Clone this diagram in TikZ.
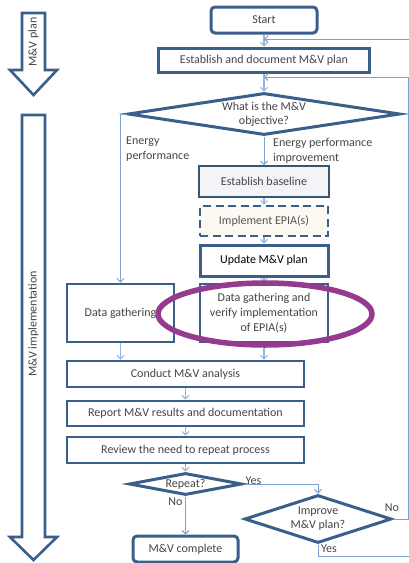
\documentclass[tikz,border=0pt]{standalone}
\usepackage{fontspec}
\setmainfont{Carlito}
\usetikzlibrary{shapes.geometric,arrows.meta,calc}

\definecolor{frame}{HTML}{3A5F8B}
\definecolor{frameB}{HTML}{395670}
\definecolor{flow}{HTML}{95B6E0}
\definecolor{thinflow}{HTML}{7AA2D3}
\definecolor{ink}{HTML}{454545}
\definecolor{softink}{HTML}{555555}
\definecolor{mark}{HTML}{953B8F}
\definecolor{paleA}{HTML}{F2F4F7}
\definecolor{paleB}{HTML}{FCF9F2}

\tikzset{
  txt/.style={font=\fontsize{12}{15}\selectfont, text=ink},
  box/.style={txt, draw=frame, line width=2.8pt, fill=white, rectangle,
              inner sep=1pt, align=center},
  termbox/.style={box, rounded corners=4pt, line width=3pt},
  decision/.style={txt, draw=frame, line width=3pt, fill=white, diamond,
                   inner sep=0pt, align=center},
  flowarrow/.style={draw=flow, line width=1.6pt,
                    -{Straight Barb[length=3.5pt,width=7pt,line width=1pt]}},
  thinarrow/.style={draw=thinflow, line width=0.9pt,
                    -{Straight Barb[length=3.5pt,width=7pt,line width=0.9pt]}},
  lbl/.style={txt, inner sep=0pt},
  phase/.style={draw=frame, line width=2.6pt, fill=white, line join=miter},
}

\begin{document}
\begin{tikzpicture}[x=1pt, y=-1pt]
  \useasboundingbox (0,0) rectangle (409,563);
  \clip (0,0) rectangle (409,563);

  % phase arrows on the left
  \draw[phase] (22,13) -- (45,13) -- (45,70) -- (57,70) -- (33.5,95)
               -- (10,70) -- (22,70) -- cycle;
  \node[txt, rotate=90] (phaseplan) at (33.5,42) {M\&V plan};
  \draw[phase] (22,115) -- (45,115) -- (45,537) -- (57,537) -- (33.5,560)
               -- (10,537) -- (22,537) -- cycle;
  \node[txt, rotate=90] (phaseimpl) at (33.5,324) {M\&V implementation};

  % process steps
  \node[termbox, minimum width=106pt, minimum height=26pt] (start) at (264,20) {Start};
  \node[box, line width=3pt, minimum width=211pt, minimum height=24pt] (plan) at (264,60)
       {Establish and document M\&V plan};
  \node[decision, minimum width=272pt, minimum height=42pt, aspect=6.5] (obj) at (264,114)
       {What is the M\&V\\[-1pt]objective?};
  \node[box, draw=frameB, line width=2pt, fill=paleA, minimum width=130pt, minimum height=31pt] (base) at (264,181.5)
       {Establish baseline};
  \node[box, dashed, dash pattern=on 8pt off 4.5pt, line width=2.6pt, fill=paleB, text=softink,
        minimum width=128pt, minimum height=30pt] (epia) at (264,221)
       {Implement EPIA(s)};
  \node[box, line width=3pt, text=black, minimum width=128pt, minimum height=31pt] (upd) at (264,260.5)
       {Update M\&V plan};
  \node[box, minimum width=107pt, minimum height=58pt] (dgl) at (120.5,313)
       {Data gathering};
  \node[box, minimum width=128pt, minimum height=58pt] (dgr) at (264,313)
       {Data gathering and\\verify implementation\\of EPIA(s)};
  \node[box, minimum width=237pt, minimum height=26pt] (cond) at (185.5,374)
       {Conduct M\&V analysis};
  \node[box, minimum width=237pt, minimum height=25pt] (rep) at (185.5,413.5)
       {Report M\&V results and documentation};
  \node[box, minimum width=237pt, minimum height=26pt] (rev) at (185.5,450)
       {Review the need to repeat process};
  \node[decision, minimum width=113pt, minimum height=22pt, aspect=5] (again) at (185.5,484)
       {Repeat?};
  \node[decision, minimum width=147pt, minimum height=48pt, aspect=3] (impr) at (318,519)
       {Improve\\[-1pt]M\&V plan?};
  \node[termbox, minimum width=105pt, minimum height=26pt] (done) at (185.5,549)
       {M\&V complete};

  % loop-back junctions on the main line
  \coordinate (j1) at (264,39);
  \coordinate (j2) at (264,77);

  % main flow
  \draw[flowarrow] (start) -- (plan);
  \draw[flowarrow] (plan) -- (obj);
  \draw[thinarrow] (obj.south) -- (base.north);
  \draw[flowarrow] (base) -- (epia);
  \draw[flowarrow] (epia) -- (upd);
  \draw[flowarrow] (upd) -- (dgr);
  \draw[thinarrow] (obj.west) -| (dgl.north);
  \draw[flowarrow] (dgl.south) -- (dgl.south |- cond.north);
  \draw[flowarrow] (dgr.south) -- (dgr.south |- cond.north);
  \draw[flowarrow] (cond) -- (rep);
  \draw[flowarrow] (rep) -- (rev);
  \draw[flowarrow] (rev) -- (again);
  \draw[thinarrow] (again.east) -| (impr.north);
  \draw[thinarrow] (again.south) -- (done.north);

  % loops back to the plan
  \draw[thinarrow] (impr.east) -- ++(15,0) |- (j2);
  \draw[thinarrow] (impr.south) -- ++(0,12) -| (411,39) -- (j1);

  % branch labels
  \node[lbl, align=left, anchor=west] (lepf) at (126,149.5) {Energy\\performance};
  \node[lbl, align=left, anchor=west] (lepi) at (273,150.5) {Energy performance\\improvement};
  \node[lbl] (lyes1) at (253.5,481) {Yes};
  \node[lbl] (lno1) at (175.5,502) {No};
  \node[lbl] (lno2) at (392,508) {No};
  \node[lbl] (lyes2) at (329,548.5) {Yes};

  % highlight ring
  \node[draw=mark, line width=5.5pt, ellipse, minimum width=214pt, minimum height=62pt] (ring) at (265,314) {};
\end{tikzpicture}
\end{document}
